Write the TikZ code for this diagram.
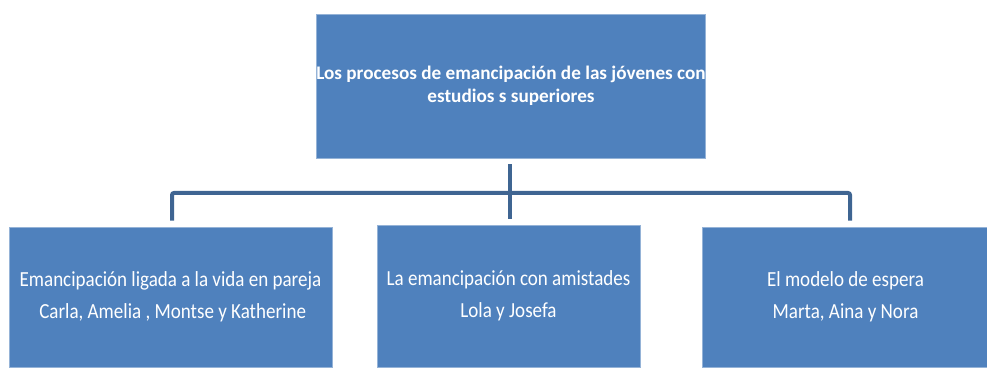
\documentclass[tikz,border=0pt]{standalone}
\usepackage{fontspec}
\setmainfont{Carlito}
\newfontfamily\condfont[FakeStretch=0.885]{Carlito}
\definecolor{boxblue}{HTML}{4F81BD}
\definecolor{connblue}{HTML}{3F6592}
\begin{document}
\begin{tikzpicture}[x=1pt,y=1pt,
  box/.style={fill=boxblue,draw=boxblue!60!white,line width=0.6pt,text=white,align=center,inner sep=0pt},
  lowtext/.style={font=\condfont\fontsize{21.5}{32}\selectfont},
  conn/.style={draw=connblue,line width=4pt,rounded corners=2pt}]
\useasboundingbox (0,0) rectangle (987,367);
\node[box,minimum width=388pt,minimum height=144pt,font=\bfseries\fontsize{19.2}{23}\selectfont] (top) at (511,281)
  {Los procesos de emancipación de las jóvenes con\\estudios s superiores};
\node[box,lowtext,minimum width=323pt,minimum height=140pt] (left) at (170.5,70)
  {Emancipación ligada a la vida en pareja\\\ Carla, Amelia , Montse y Katherine};
\node[box,lowtext,minimum width=263pt,minimum height=142pt] (mid) at (508.5,71)
  {La emancipación con amistades\\Lola y Josefa};
\node[box,lowtext,minimum width=287pt,minimum height=140pt] (right) at (845.5,70)
  {El modelo de espera\\Marta, Aina y Nora};
\path (top.south) ++(0,-6) coordinate (ts);
\path (mid.north) ++(0,6) coordinate (mt);
\coordinate (j) at (510,174);
\draw[conn] (ts -| j) -- (j);
\draw[conn] ([xshift=1.5pt,yshift=6pt]left.north) |- (j) -| ([xshift=4.5pt,yshift=6pt]right.north);
\draw[conn] (j) -- (j |- mt);
\end{tikzpicture}
\end{document}
